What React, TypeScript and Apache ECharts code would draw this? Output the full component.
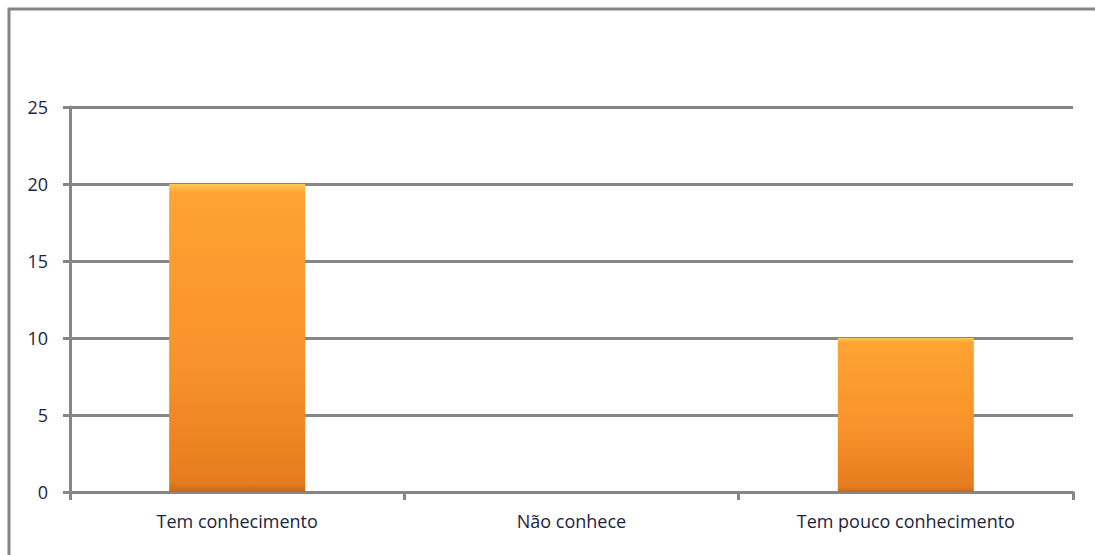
import React, { useEffect, useRef } from "react";
import * as echarts from "echarts";

const categories = ["Tem conhecimento", "Não conhece", "Tem pouco conhecimento"];
const counts = [20, 0, 10];
const yTicks = { min: 0, max: 25, interval: 5 };

const GRID_GRAY = "#868686";
const TEXT = "#1b2440";
const FONT = "'Open Sans', 'DejaVu Sans', sans-serif";

export default function App() {
  const ref = useRef<HTMLDivElement>(null);

  useEffect(() => {
    document.body.style.margin = "0";
    if (!ref.current) return;
    const chart = echarts.init(ref.current, undefined, { renderer: "svg" });
    chart.setOption({
      animation: false,
      backgroundColor: "#ffffff",
      graphic: [
        {
          type: "rect",
          shape: { x: 9, y: 9, width: 1200, height: 700 },
          style: { fill: "none", stroke: GRID_GRAY, lineWidth: 3 },
          silent: true,
        },
      ],
      grid: { left: 70, right: 22, top: 107, bottom: 63, containLabel: false },
      xAxis: {
        type: "category",
        data: categories,
        axisLine: { lineStyle: { color: GRID_GRAY, width: 3 } },
        axisTick: { show: true, length: 8, lineStyle: { color: GRID_GRAY, width: 3 } },
        axisLabel: { color: TEXT, fontFamily: FONT, fontSize: 18, margin: 20 },
      },
      yAxis: {
        type: "value",
        min: yTicks.min,
        max: yTicks.max,
        interval: yTicks.interval,
        axisLine: { show: true, lineStyle: { color: GRID_GRAY, width: 3 } },
        axisTick: { show: true, length: 7, lineStyle: { color: GRID_GRAY, width: 3 } },
        splitLine: { lineStyle: { color: GRID_GRAY, width: 3 } },
        axisLabel: { color: TEXT, fontFamily: FONT, fontSize: 18, margin: 22 },
      },
      series: [
        {
          type: "bar",
          data: counts,
          barWidth: 136,
          itemStyle: {
            color: new echarts.graphic.LinearGradient(0, 0, 0, 1, [
              { offset: 0, color: "#ffc85a" },
              { offset: 0.03, color: "#ffa233" },
              { offset: 0.6, color: "#f7922a" },
              { offset: 0.97, color: "#e57c1e" },
              { offset: 1, color: "#c8661a" },
            ]),
          },
        },
      ],
    });
    return () => chart.dispose();
  }, []);

  return <div ref={ref} style={{ width: 1095, height: 555 }} />;
}
